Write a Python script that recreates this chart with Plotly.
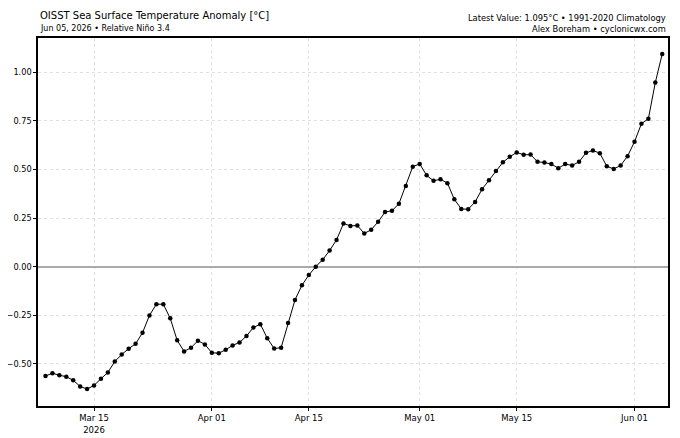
import pandas as pd
import plotly.graph_objects as go

# daily Niño 3.4 relative anomaly, Mar 08 - Jun 05 2026
dates = pd.date_range('2026-03-08', '2026-06-05', freq='D')
anomaly = [
    -0.563, -0.548, -0.559, -0.566, -0.585, -0.616, -0.630, -0.611,
    -0.577, -0.544, -0.488, -0.452, -0.422, -0.397, -0.340, -0.251,
    -0.193, -0.193, -0.266, -0.379, -0.436, -0.417, -0.381, -0.400,
    # April
    -0.443, -0.445, -0.428, -0.405, -0.390, -0.357, -0.313, -0.296,
    -0.368, -0.421, -0.417, -0.290, -0.171, -0.096, -0.043, 0.000,
    0.036, 0.083, 0.138, 0.222, 0.210, 0.212, 0.171, 0.190,
    0.231, 0.281, 0.288, 0.324, 0.415, 0.515,
    # May
    0.529, 0.470, 0.442, 0.450, 0.430, 0.347, 0.297, 0.296,
    0.333, 0.399, 0.445, 0.492, 0.537, 0.566, 0.588, 0.576,
    0.577, 0.540, 0.536, 0.528, 0.507, 0.528, 0.521, 0.540,
    0.586, 0.598, 0.584, 0.517, 0.503, 0.521, 0.569,
    # June
    0.643, 0.736, 0.761, 0.948, 1.095,
]

x_ticks = ['2026-03-15', '2026-04-01', '2026-04-15', '2026-05-01', '2026-05-15', '2026-06-01']
x_tick_labels = ['Mar 15<br>2026', 'Apr 01', 'Apr 15', 'May 01', 'May 15', 'Jun 01']
y_ticks = [-0.50, -0.25, 0.00, 0.25, 0.50, 0.75, 1.00]
y_tick_labels = ['−0.50', '−0.25', '0.00', '0.25', '0.50', '0.75', '1.00']

FONT = 'DejaVu Sans'

fig = go.Figure()

fig.add_trace(go.Scatter(
    x=dates, y=anomaly,
    mode='lines+markers',
    line=dict(color='black', width=1),
    marker=dict(color='black', size=4.5),
    showlegend=False,
))

grid = dict(showgrid=True, gridcolor='#e0e0e0', griddash='dot', gridwidth=1)

# the page body adds an 8px offset, so the figure is a bit smaller than the window
fig.update_layout(
    width=672, height=430,
    margin=dict(l=30, r=12, t=30, b=32),
    paper_bgcolor='white',
    plot_bgcolor='white',
    font=dict(family=FONT, size=8, color='black'),
    xaxis=dict(
        range=['2026-03-06 22:00', '2026-06-05 20:00'],
        tickvals=x_ticks, ticktext=x_tick_labels,
        ticks='outside', ticklen=3.5, tickwidth=1, tickcolor='black',
        showline=True, linecolor='black', linewidth=1.5, mirror=True,
        zeroline=False, tickfont=dict(size=8.5), automargin=False,
        **grid,
    ),
    yaxis=dict(
        range=[-0.717, 1.177],
        tickvals=y_ticks, ticktext=y_tick_labels,
        ticks='outside', ticklen=3, tickwidth=1, tickcolor='black',
        showline=True, linecolor='black', linewidth=1.5, mirror=True,
        zeroline=True, zerolinecolor='#aaaaaa', zerolinewidth=1.5,
        tickfont=dict(size=8.2), automargin=False,
        **grid,
    ),
    annotations=[
        dict(text='OISST Sea Surface Temperature Anomaly [°C]', x=0, y=1.0625,
             xref='paper', yref='paper', xanchor='left', yanchor='middle',
             showarrow=False, font=dict(size=10, family=FONT)),
        dict(text='Jun 05, 2026 • Relative Niño 3.4', x=0, y=1.027,
             xref='paper', yref='paper', xanchor='left', yanchor='middle',
             showarrow=False, font=dict(size=8, family=FONT)),
        dict(text='Latest Value: 1.095°C • 1991-2020 Climatology', x=1, y=1.054,
             xref='paper', yref='paper', xanchor='right', yanchor='middle',
             showarrow=False, font=dict(size=8.3, family=FONT)),
        dict(text='Alex Boreham • cyclonicwx.com', x=1, y=1.024,
             xref='paper', yref='paper', xanchor='right', yanchor='middle',
             showarrow=False, font=dict(size=8.3, family=FONT)),
    ],
)

fig.write_html('out.html')
